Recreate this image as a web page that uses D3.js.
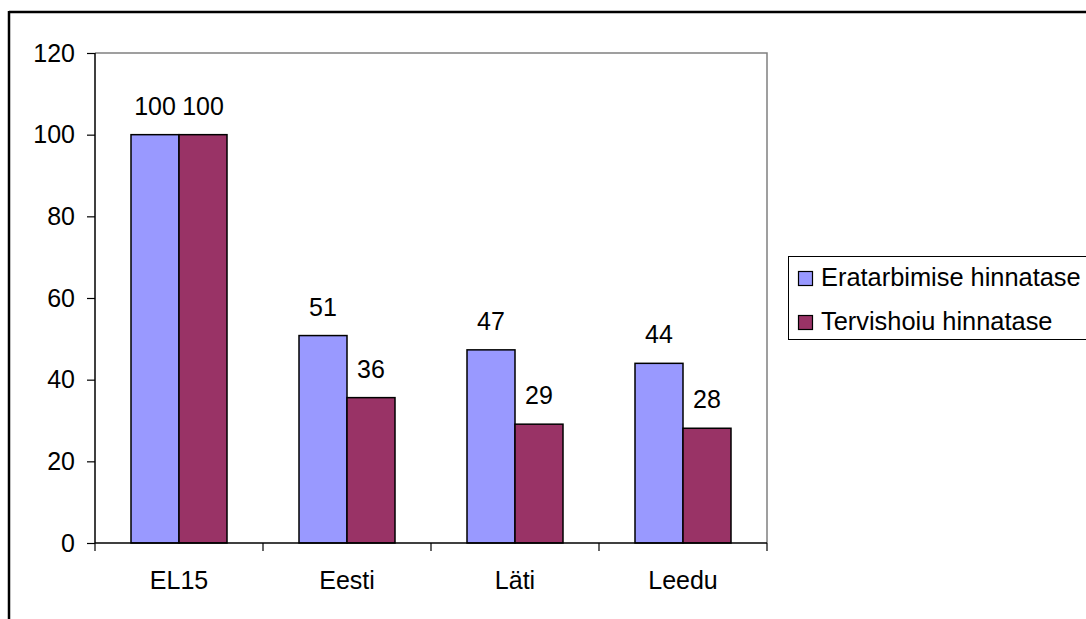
<!DOCTYPE html>
<html><head><meta charset="utf-8">
<script src="https://cdn.jsdelivr.net/npm/d3@7"></script>
<style>body{margin:0;background:#fff;}svg{display:block;font-family:"Liberation Sans",Arial,sans-serif;}</style>
</head><body>
<svg id="c" width="1086" height="619"></svg>
<script>
const categories = ["EL15", "Eesti", "Läti", "Leedu"];
const seriesNames = ["Eratarbimise hinnatase", "Tervishoiu hinnatase"];
const eratarbimise = [100, 50.8, 47.3, 44.0];
const tervishoiu = [100, 35.6, 29.1, 28.1];
const yTicks = [0, 20, 40, 60, 80, 100, 120];
const colors = ["#9999FF", "#993366"];

const svg = d3.select("#c");
const L = 95, R = 767, T = 53, B = 543;
const fs = 25;

// outer frame (chart area border)
svg.append("line").attr("x1", 9).attr("x2", 1086).attr("y1", 12).attr("y2", 12).attr("stroke", "#000").attr("stroke-width", 2.5);
svg.append("line").attr("x1", 9).attr("x2", 9).attr("y1", 11).attr("y2", 619).attr("stroke", "#000").attr("stroke-width", 2.5);

const y = d3.scaleLinear().domain([0, 120]).range([B, T]);
const x0 = d3.scaleBand().domain(categories).range([L, R]).padding(0);
const bw = x0.bandwidth() / 3.5;
const x1 = d3.scaleBand().domain(seriesNames).range([bw * 0.75, bw * 2.75]).padding(0);

// plot area border (gray top/right)
svg.append("path").attr("d", `M${L},${T}H${R}V${B}`).attr("fill", "none").attr("stroke", "#808080").attr("stroke-width", 1.5);

const data = categories.map((c, i) => ({cat: c, vals: [eratarbimise[i], tervishoiu[i]]}));

const g = svg.append("g");
data.forEach(d => {
  d.vals.forEach((v, j) => {
    const xx = x0(d.cat) + x1(seriesNames[j]);
    g.append("rect").attr("x", xx).attr("y", y(v)).attr("width", x1.bandwidth()).attr("height", B - y(v))
      .attr("fill", colors[j]).attr("stroke", "#000").attr("stroke-width", 1.5);
    g.append("text").attr("x", xx + x1.bandwidth() / 2).attr("y", y(v) - 20).attr("text-anchor", "middle")
      .attr("font-size", fs).attr("fill", "#000").text(Math.round(v));
  });
});

// y axis
const ya = svg.append("g").attr("transform", `translate(${L},0)`)
  .call(d3.axisLeft(y).tickValues(yTicks).tickSize(8).tickPadding(12).tickFormat(d3.format("d")));
ya.select(".domain").attr("stroke", "#000").attr("stroke-width", 1.5).attr("d", `M0,${T}V${B}`);
ya.selectAll(".tick line").attr("stroke", "#000").attr("stroke-width", 1.2);
ya.selectAll(".tick text").attr("font-size", fs).attr("font-family", "Liberation Sans, Arial, sans-serif").attr("fill", "#000");

// x axis
const xa = svg.append("g").attr("transform", `translate(0,${B})`)
  .call(d3.axisBottom(x0).tickSize(0).tickPadding(28));
xa.select(".domain").attr("stroke", "#000").attr("stroke-width", 1.5).attr("d", `M${L},0H${R}`);
xa.selectAll(".tick text").attr("font-size", fs).attr("font-family", "Liberation Sans, Arial, sans-serif").attr("fill", "#000");
const sepTicks = [L].concat(categories.map(c => x0(c) + x0.bandwidth()));
svg.append("g").selectAll("line").data(sepTicks).join("line")
  .attr("x1", d => d).attr("x2", d => d).attr("y1", B).attr("y2", B + 8).attr("stroke", "#000").attr("stroke-width", 1.2);

// legend
const lg = svg.append("g");
lg.append("rect").attr("x", 788.5).attr("y", 256.5).attr("width", 320).attr("height", 83).attr("fill", "#fff").attr("stroke", "#000").attr("stroke-width", 1);
seriesNames.forEach((s, j) => {
  const yy = 271 + j * 44;
  lg.append("rect").attr("x", 798.5).attr("y", yy + 0.5).attr("width", 14).attr("height", 14).attr("fill", colors[j]).attr("stroke", "#000").attr("stroke-width", 1.2);
  lg.append("text").attr("x", 821).attr("y", yy + 14.5).attr("font-size", 25.4).attr("fill", "#000").text(s);
});
</script>
</body></html>
